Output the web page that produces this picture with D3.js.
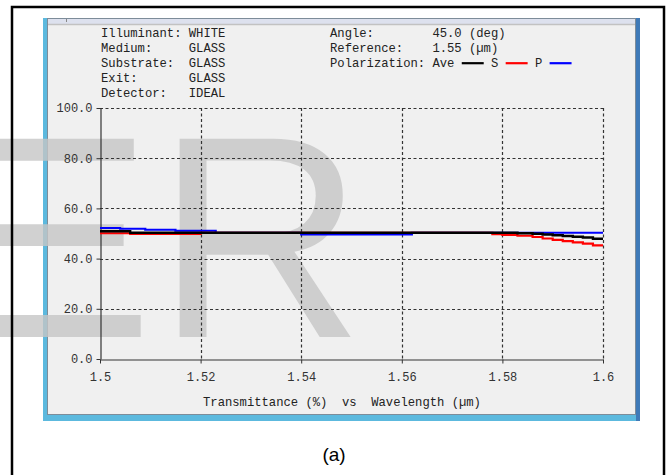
<!DOCTYPE html>
<html>
<head>
<meta charset="utf-8">
<script src="https://cdn.jsdelivr.net/npm/d3@7"></script>
<style>
  body { margin: 0; background: #fff; }
  text { font-family: "Liberation Mono", "DejaVu Sans Mono", monospace; }
</style>
</head>
<body>
<div id="chart"></div>
<script>
// transmittance vs wavelength, stepped output of the thin film program

const wavelength = [1.500, 1.504, 1.506, 1.509, 1.515, 1.520, 1.523, 1.540, 1.562, 1.578,
                    1.580, 1.583, 1.586, 1.588, 1.590, 1.592, 1.594, 1.596, 1.598, 1.600];
const pValues   = [52.2, 51.9, 51.9, 51.5, 51.1, 51.1, 50.3, 49.6, 50.3, 50.3,
                   50.3, 50.3, 50.3, 50.3, 50.3, 50.3, 50.3, 50.3, 50.3, 50.3];
const sValues   = [50.1, 50.1, 49.8, 49.8, 49.8, 50.3, 50.3, 50.3, 50.3, 49.7,
                   49.4, 49.1, 48.6, 48.0, 47.5, 47.0, 46.5, 46.0, 45.3, 45.3];
const aveValues = [50.9, 50.9, 50.3, 50.3, 50.3, 50.3, 50.3, 50.3, 50.3, 50.3,
                   50.3, 50.1, 49.9, 49.6, 49.3, 49.0, 48.7, 48.4, 47.9, 47.9];

const xTicks = [1.50, 1.52, 1.54, 1.56, 1.58, 1.60];
const yTicks = [0, 20, 40, 60, 80, 100];

const headerLeft = ["Illuminant: WHITE", "Medium:     GLASS", "Substrate:  GLASS", "Exit:       GLASS", "Detector:   IDEAL"];
const headerRight = ["Angle:        45.0 (deg)", "Reference:    1.55 (\u00b5m)", "Polarization: Ave"];
const legendItems = [
    { label: null, color: "#000000", col: 18 },
    { label: "S", color: "#ff0000", col: 24 },
    { label: "P", color: "#0000ff", col: 30 }
];
const axisTitle = "Transmittance (%)  vs  Wavelength (\u00b5m)";

const width = 668, height = 475;
const plot = { left: 100, right: 603, top: 108, bottom: 359 };
const monoSize = 12.2;
const charW = monoSize * 0.6;

// svg text collapses runs of spaces, so keep them as no-break spaces
const keepSpaces = s => s.replace(/ /g, "\u00a0");

const svg = d3.select("#chart").append("svg")
    .attr("width", width)
    .attr("height", height);

svg.append("rect").attr("width", width).attr("height", height).attr("fill", "#fff");

// window frame
svg.append("rect")
    .attr("x", 43).attr("y", 18).attr("width", 597).attr("height", 403)
    .attr("fill", "#5cb9de");
svg.append("rect")
    .attr("x", 636).attr("y", 18).attr("width", 4).attr("height", 403)
    .attr("fill", "#3f7ab8");
svg.append("rect")
    .attr("x", 47.5).attr("y", 18.5).attr("width", 588).attr("height", 396)
    .attr("fill", "#f0f0f0")
    .attr("stroke", "#7d8c99");
svg.append("rect")
    .attr("x", 48).attr("y", 19).attr("width", 587).attr("height", 5)
    .attr("fill", "#dde1ee");
svg.append("line")
    .attr("x1", 48).attr("x2", 635).attr("y1", 24.5).attr("y2", 24.5)
    .attr("stroke", "#c2c2c2").attr("stroke-width", 1.5);
svg.append("line")
    .attr("x1", 66.5).attr("x2", 66.5).attr("y1", 19).attr("y2", 22)
    .attr("stroke", "#888");

// watermark letters
const mark = svg.append("g")
    .attr("fill", "#c6c6c6")
    .attr("opacity", 0.8);
mark.append("text")
    .attr("transform", "translate(-75,337) scale(1.2,1)")
    .style("font-family", "'Liberation Sans', Arial, sans-serif")
    .style("font-size", "288px")
    .text("E");
mark.append("text")
    .attr("x", 156).attr("y", 337)
    .style("font-family", "'Liberation Sans', Arial, sans-serif")
    .style("font-size", "288px")
    .text("R");

// outer black frame
svg.append("rect")
    .attr("x", 12).attr("y", 7).attr("width", 652).attr("height", 500)
    .attr("fill", "none")
    .attr("stroke", "#000")
    .attr("stroke-width", 2.5);

const x = d3.scaleLinear().domain([1.5, 1.6]).range([plot.left, plot.right]);
const y = d3.scaleLinear().domain([0, 100]).range([plot.bottom, plot.top]);

// dashed grid
const grid = svg.append("g")
    .attr("stroke", "#333")
    .attr("stroke-width", 1.2)
    .attr("stroke-dasharray", "3,2.5");
grid.selectAll(".hgrid")
    .data(yTicks.slice(1))
    .join("line")
    .attr("x1", plot.left).attr("x2", plot.right)
    .attr("y1", d => Math.round(y(d)) + 0.5).attr("y2", d => Math.round(y(d)) + 0.5);
grid.selectAll(".vgrid")
    .data(xTicks.slice(1))
    .join("line")
    .attr("x1", d => Math.round(x(d)) + 0.5).attr("x2", d => Math.round(x(d)) + 0.5)
    .attr("y1", plot.top).attr("y2", plot.bottom);

// axes
const xAxis = svg.append("g")
    .attr("transform", `translate(0,${Math.round(y(0)) + 0.5})`)
    .call(d3.axisBottom(x).tickValues(xTicks).tickSize(4).tickSizeOuter(0).tickPadding(9)
        .tickFormat(d => String(+d.toFixed(2))));
const yAxis = svg.append("g")
    .attr("transform", `translate(${Math.round(x(1.5)) + 0.5},0)`)
    .call(d3.axisLeft(y).tickValues(yTicks).tickSize(4).tickSizeOuter(0).tickPadding(4)
        .tickFormat(d3.format(".1f")));
[xAxis, yAxis].forEach(a => {
    a.select(".domain").attr("stroke", "#333").attr("stroke-width", 1.2);
    a.selectAll(".tick line").attr("stroke", "#333");
    a.selectAll("text")
        .attr("fill", "#333")
        .style("font-family", "'Liberation Mono', monospace")
        .style("font-size", "12px");
});

// curves
const series = [
    { values: pValues, color: "#0000ff", width: 2.2 },
    { values: sValues, color: "#ff0000", width: 2.2 },
    { values: aveValues, color: "#000000", width: 2.4 }
];
const line = d3.line()
    .x(d => x(d[0]))
    .y(d => y(d[1]))
    .curve(d3.curveStepAfter);
svg.append("g").selectAll("path")
    .data(series)
    .join("path")
    .attr("fill", "none")
    .attr("stroke", d => d.color)
    .attr("stroke-width", d => d.width)
    .attr("d", d => line(wavelength.map((w, i) => [w, d.values[i]])));

// header block
const header = svg.append("g")
    .attr("fill", "#222")
    .style("font-size", monoSize + "px");
header.selectAll(".hl")
    .data(headerLeft)
    .join("text")
    .attr("x", 101)
    .attr("y", (_, i) => 37 + i * 15.1)
    .text(d => keepSpaces(d));
header.selectAll(".hr")
    .data(headerRight)
    .join("text")
    .attr("x", 330)
    .attr("y", (_, i) => 37 + i * 15.1)
    .text(d => keepSpaces(d));

const legendY = 37 + 2 * 15.1 - 4;
legendItems.forEach(item => {
    if (item.label) {
        header.append("text")
            .attr("x", 330 + (item.col - 2) * charW)
            .attr("y", 37 + 2 * 15.1)
            .text(item.label);
    }
    svg.append("line")
        .attr("x1", 330 + item.col * charW).attr("x2", 330 + (item.col + 3) * charW)
        .attr("y1", legendY).attr("y2", legendY)
        .attr("stroke", item.color)
        .attr("stroke-width", 2.2);
});

svg.append("text")
    .attr("x", 203)
    .attr("y", 406)
    .attr("fill", "#222")
    .style("font-size", monoSize + "px")
    .text(keepSpaces(axisTitle));

svg.append("text")
    .attr("x", 334)
    .attr("y", 461)
    .attr("text-anchor", "middle")
    .attr("fill", "#000")
    .style("font-family", "'Liberation Sans', Arial, sans-serif")
    .style("font-size", "19px")
    .text("(a)");
</script>
</body>
</html>
